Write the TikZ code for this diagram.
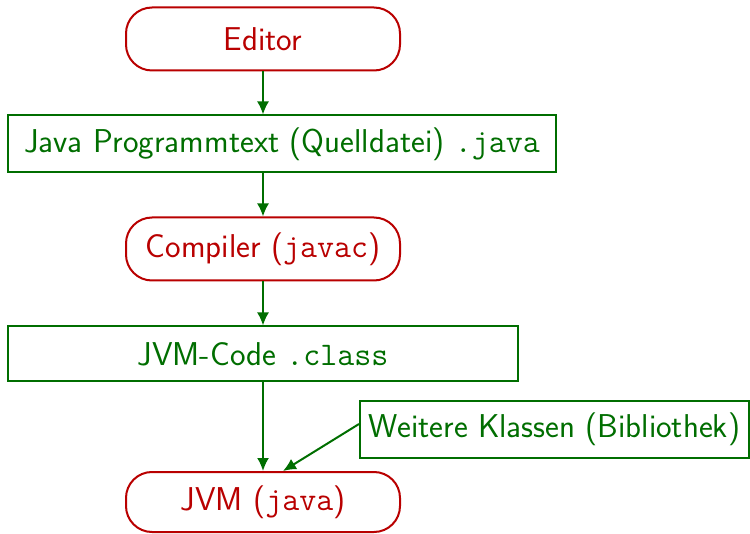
\documentclass[tikz,border=0pt]{standalone}
\usetikzlibrary{arrows.meta,calc}
\definecolor{myred}{RGB}{185,0,0}
\definecolor{mygreen}{RGB}{0,110,0}
\begin{document}
\begin{tikzpicture}[x=0.5pt,y=-0.5pt,
  font=\fontsize{16.5}{19}\selectfont\sffamily,
  proc/.style={rectangle, rounded corners=13pt, draw=myred, text=myred, line width=1pt, fill=white,
    minimum width=137pt, minimum height=31.5pt, inner sep=0pt},
  dat/.style={rectangle, draw=mygreen, text=mygreen, line width=1pt, fill=white,
    minimum height=28.5pt, inner sep=0pt},
  arr/.style={draw=mygreen, line width=1pt, -{Latex[length=6.5pt,width=6pt]}}]
\useasboundingbox (0,0) rectangle (750,534);
\node[proc] (editor) at (263,39) {Editor};
\node[dat, minimum width=274pt] (java) at (282,144) {Java Programmtext (Quelldatei) \texttt{.java}};
\node[proc] (compiler) at (263,249) {Compiler (\texttt{javac})};
\node[dat, minimum width=255pt, minimum height=27.5pt] (code) at (263,354) {JVM-Code \texttt{.class}};
\node[dat, minimum width=194.5pt] (lib) at (554.5,429) {Weitere Klassen (Bibliothek)};
\node[proc, minimum height=30pt] (jvm) at (263,502) {JVM (\texttt{java})};
\draw[arr] (editor) -- (editor |- java.north);
\draw[arr] (java.south -| editor) -- (compiler);
\draw[arr] (compiler) -- (code);
\draw[arr] (code) -- (jvm);
\draw[arr] ($(lib.west)+(0,2.5pt)$) -- ($(jvm.north)+(10pt,0)$);
\end{tikzpicture}
\end{document}
